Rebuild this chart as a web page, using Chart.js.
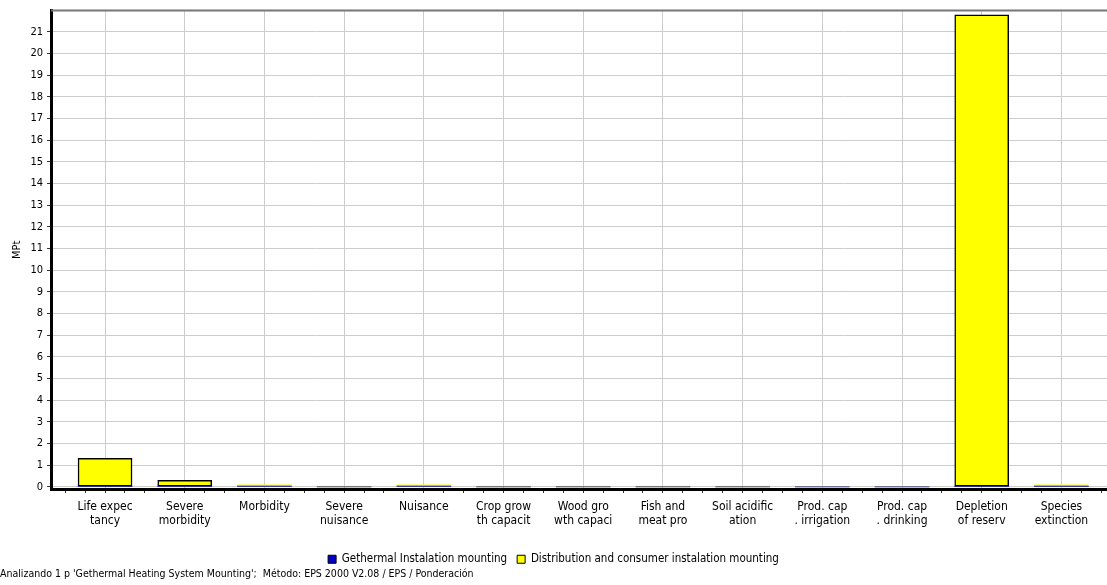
<!DOCTYPE html>
<html>
<head>
<meta charset="utf-8">
<script src="https://cdn.jsdelivr.net/npm/chart.js@4.4.0/dist/chart.umd.min.js"></script>
<style>
  html, body { margin: 0; padding: 0; background: #fff; }
  #wrap { position: relative; width: 1107px; height: 585px; }
</style>
</head>
<body>
<div id="wrap"><canvas id="canvas"></canvas></div>
<script>
// impact categories (labels are wrapped the way the original tool cuts them)
const categories = [
  ["Life expec", "tancy"],
  ["Severe", "morbidity"],
  ["Morbidity"],
  ["Severe", "nuisance"],
  ["Nuisance"],
  ["Crop grow", "th capacit"],
  ["Wood gro", "wth capaci"],
  ["Fish and", "meat pro"],
  ["Soil acidific", "ation"],
  ["Prod. cap", ". irrigation"],
  ["Prod. cap", ". drinking"],
  ["Depletion", "of reserv"],
  ["Species", "extinction"]
];

// MPt per category
const gethermal    = [0.03, 0.03, 0.03, 0, 0.03, 0, 0, 0, 0, 0, 0, 0.03, 0.03];
const distribution = [1.28, 0.27, 0.06, 0.04, 0.06, 0.03, 0.03, 0.03, 0.03, 0, 0, 21.75, 0.06];

const yTickValues = [0, 1, 2, 3, 4, 5, 6, 7, 8, 9, 10, 11, 12, 13, 14, 15, 16, 17, 18, 19, 20, 21];

const seriesNames = ["Gethermal Instalation mounting", "Distribution and consumer instalation mounting"];
const footerText = "Analizando 1 p 'Gethermal Heating System Mounting';  Método: EPS 2000 V2.08 / EPS / Ponderación";

const FONT = "'DejaVu Sans Condensed', 'DejaVu Sans', sans-serif";
const GRID = '#cdcdcd';

// gray frame line along the top of the plot
const topBorder = {
  id: 'topBorder',
  afterDraw(chart) {
    const {ctx, chartArea} = chart;
    ctx.save();
    ctx.strokeStyle = '#777';
    ctx.lineWidth = 2;
    ctx.beginPath();
    ctx.moveTo(chartArea.left, chartArea.top);
    ctx.lineTo(chartArea.right, chartArea.top);
    ctx.stroke();
    ctx.restore();
  }
};

new Chart(document.getElementById('canvas').getContext('2d'), {
  type: 'bar',
  data: {
    datasets: [
      {
        label: seriesNames[0],
        data: gethermal.map((v, i) => ({x: i, y: v})),
        backgroundColor: '#0000c8',
        borderWidth: 0
      },
      {
        label: seriesNames[1],
        data: distribution.map((v, i) => ({x: i, y: v})),
        backgroundColor: '#ffff00',
        borderColor: '#000',
        borderSkipped: false,
        borderWidth: (c) => (c.raw && c.raw.y > 0.2 ? 1.5 : 0)
      }
    ]
  },
  options: {
    responsive: true,
    maintainAspectRatio: false,
    animation: false,
    layout: { padding: { top: 8 } },
    datasets: {
      bar: { barThickness: 54 }
    },
    scales: {
      x: {
        type: 'linear',
        stacked: true,
        offset: false,
        min: -0.678,
        max: 12.572,
        afterBuildTicks(scale) {
          const t = [];
          for (let k = 0; k <= 52; k++) t.push({value: -0.5 + k * 0.25});
          scale.ticks = t;
        },
        afterFit(scale) {
          scale.height = 54.5;
          scale.paddingLeft = 0;
          scale.paddingRight = 0;
        },
        grid: {
          offset: false,
          color: (c) => (Number.isInteger(c.tick && c.tick.value) ? GRID : 'rgba(0,0,0,0)'),
          tickColor: '#333',
          tickLength: 4
        },
        border: { color: '#000', width: 3 },
        ticks: {
          autoSkip: false,
          maxRotation: 0,
          padding: 6.5,
          color: '#000',
          font: { family: FONT, size: 12, lineHeight: '14px' },
          callback: (v) => (Number.isInteger(v) && categories[v] ? categories[v] : '')
        }
      },
      y: {
        stacked: true,
        min: -0.1,
        max: 21.98,
        afterBuildTicks(scale) {
          scale.ticks = yTickValues.map((v) => ({value: v}));
        },
        afterFit(scale) { scale.width = 51; },
        grid: { color: GRID, tickColor: '#333', tickLength: 4 },
        border: { color: '#000', width: 3 },
        ticks: {
          padding: 4,
          color: '#000',
          font: { family: FONT, size: 11 }
        },
        title: {
          display: true,
          text: 'MPt',
          color: '#000',
          font: { family: FONT, size: 11 },
          padding: { top: 11, bottom: 0 }
        }
      }
    },
    plugins: {
      legend: {
        position: 'bottom',
        labels: {
          padding: 10,
          boxWidth: 8,
          boxHeight: 8,
          color: '#000',
          font: { family: FONT, size: 11.5 },
          generateLabels: (chart) => chart.data.datasets.map((d, i) => ({
            text: d.label,
            fillStyle: d.backgroundColor,
            strokeStyle: '#000',
            lineWidth: 1,
            datasetIndex: i
          }))
        }
      },
      title: {
        display: true,
        position: 'bottom',
        align: 'start',
        text: footerText,
        color: '#000',
        font: { family: FONT, size: 10.5, weight: 'normal', lineHeight: 1 },
        padding: { top: -5.5, bottom: 5 }
      },
      tooltip: { enabled: false }
    }
  },
  plugins: [topBorder]
});
</script>
</body>
</html>
